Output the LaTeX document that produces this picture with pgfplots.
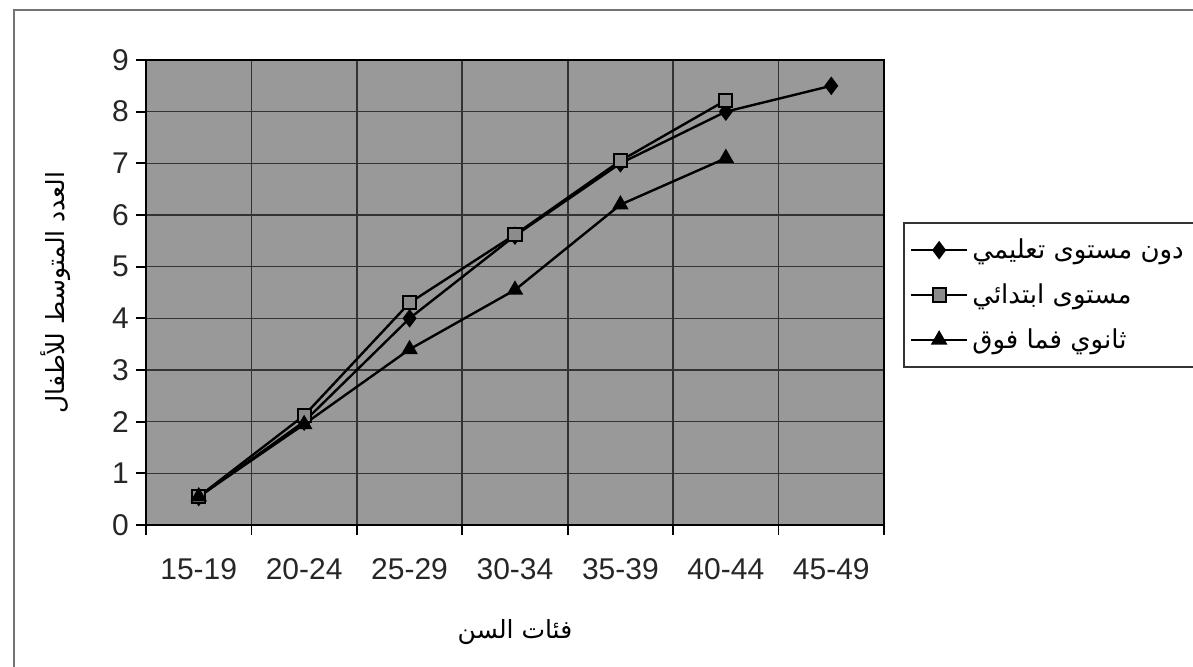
\documentclass[border=0pt]{standalone}
\usepackage{fontspec}
\setmainfont{Liberation Sans}
\newfontfamily\arabicfont[Script=Arabic]{DejaVu Sans}
\TeXXeTstate=1
\usepackage{pgfplots}
\pgfplotsset{compat=1.18}
\begin{document}
\begin{tikzpicture}[x=1pt,y=1pt]
\useasboundingbox (-73,-71) rectangle (523.5,262.5);
\begin{axis}[
  at={(0,0)}, anchor=south west,
  scale only axis, width=369pt, height=232.5pt,
  xmin=0.5, xmax=7.5, ymin=0, ymax=9,
  xtick={1,...,7},
  xticklabels={15-19,20-24,25-29,30-34,35-39,40-44,45-49},
  major x tick style={draw=none},
  minor xtick={0.5,1.5,...,7.5},
  ytick={0,...,9},
  tick pos=left,
  tick align=outside,
  major tick length=5pt, minor tick length=5pt,
  tick style={black, line width=0.9pt},
  xminorgrids=true, ymajorgrids=true,
  minor grid style={black!80, line width=0.8pt},
  major grid style={black!80, line width=0.8pt},
  axis line style={black, line width=1.3pt},
  axis background/.style={fill=black!40},
  tick label style={font=\fontsize{15}{18}\selectfont, text=black!85},
  /pgf/number format/assume math mode=true,
  xticklabel style={yshift=-8pt},
  xlabel={\arabicfont\beginR فئات السن\endR},
  ylabel={\arabicfont\beginR العدد المتوسط للأطفال\endR},
  label style={font=\fontsize{12.5}{15}\selectfont},
  xlabel style={yshift=-13pt},
  ylabel style={yshift=14pt},
  legend style={at={(1.0257,0.652)}, anchor=north west, draw=black!80, line width=1pt,
    font=\fontsize{13}{16}\selectfont\arabicfont, row sep=7pt, inner xsep=3pt, inner ysep=6pt,
    cells={anchor=west}},
  legend image code/.code={\draw[mark repeat=2,mark phase=2,#1] plot coordinates {(0pt,0pt)(14pt,0pt)(28pt,0pt)};},
  clip=false,
]
\addplot[black, line width=1.2pt, mark=diamond*, mark size=4pt, mark options={fill=black, line width=0.8pt}]
  coordinates {(1,0.54)(2,2.0)(3,4.0)(4,5.6)(5,7.0)(6,8.0)(7,8.5)};
\addlegendentry{\beginR دون مستوى تعليمي\endR}
\addplot[black, line width=1.2pt, mark=square*, mark size=3.3pt, mark options={fill=black!45, draw=black, line width=1pt}]
  coordinates {(1,0.55)(2,2.12)(3,4.3)(4,5.62)(5,7.05)(6,8.22)};
\addlegendentry{\beginR مستوى ابتدائي\endR}
\addplot[black, line width=1.2pt, mark=triangle*, mark size=4pt, mark options={fill=black, line width=0.8pt}]
  coordinates {(1,0.55)(2,1.95)(3,3.4)(4,4.55)(5,6.2)(6,7.1)};
\addlegendentry{\beginR ثانوي فما فوق\endR}
\end{axis}
\draw[black!55, line width=1pt] (-66,-71) -- (-66,257.5) -- (523.5,257.5);
\end{tikzpicture}
\end{document}
